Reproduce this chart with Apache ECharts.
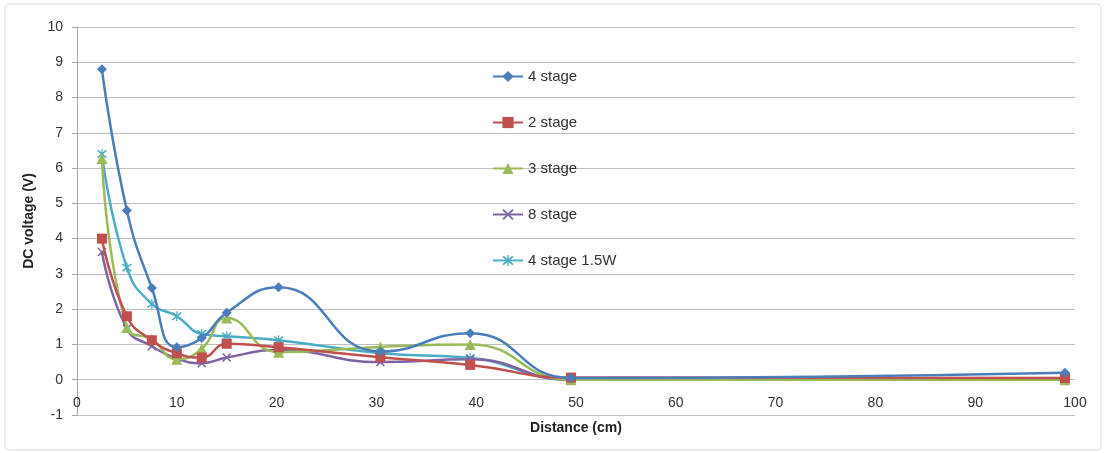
<!DOCTYPE html>
<html><head><meta charset="utf-8">
<script src="https://cdn.jsdelivr.net/npm/echarts@6/dist/echarts.min.js"></script>
<style>html,body{margin:0;padding:0;background:#fff}#c{width:1107px;height:453px}</style>
</head><body><div id="c"></div>
<script>
const distances = [2.5, 5, 7.5, 10, 12.5, 15, 20.2, 30.4, 39.4, 49.5, 99];
const stage4 = [8.8, 4.8, 2.6, 0.92, 1.18, 1.9, 2.62, 0.8, 1.32, 0.05, 0.2];
const stage2 = [4.0, 1.8, 1.12, 0.75, 0.63, 1.02, 0.92, 0.64, 0.42, 0.06, 0.05];
const stage3 = [6.27, 1.48, 1.14, 0.58, 0.88, 1.75, 0.78, 0.93, 1.0, 0.0, 0.0];
const stage8 = [3.62, 1.45, 0.95, 0.6, 0.47, 0.63, 0.84, 0.5, 0.58, 0.0, 0.0];
const stage4w = [6.4, 3.18, 2.15, 1.8, 1.3, 1.23, 1.12, 0.75, 0.62, 0.0, 0.0];
const seriesNames = ['4 stage', '2 stage', '3 stage', '8 stage', '4 stage 1.5W'];
const yTicks = [-1, 10, 1];
const xTicks = [0, 100, 10];

const colors = ['#4A7EBB', '#C0504D', '#9BBB59', '#8064A2', '#4BACC6'];
const xPath = 'path://M0,1.2L1.2,0L5,3.8L8.8,0L10,1.2L6.2,5L10,8.8L8.8,10L5,6.2L1.2,10L0,8.8L3.8,5Z';
const starPath = 'path://M0,1.2L1.2,0L5,3.8L8.8,0L10,1.2L6.2,5L10,8.8L8.8,10L5,6.2L1.2,10L0,8.8L3.8,5Z M4.4,-1L5.6,-1L5.6,11L4.4,11Z';
const symbols = ['diamond', 'rect', 'triangle', xPath, starPath];
const sizes = [10, 10, 11, 9, 10];
const allData = [stage4, stage2, stage3, stage8, stage4w];

const font = '"Liberation Sans Narrow", "Liberation Sans", sans-serif';
const chart = echarts.init(document.getElementById('c'));
chart.setOption({
  animation: false,
  color: colors,
  graphic: [{type: 'rect', shape: {x: 5, y: 4, width: 1096, height: 446, r: 4},
    style: {fill: 'none', stroke: '#D9D9D9', lineWidth: 1}, z: -1}],
  grid: {left: 77, right: 32, top: 27, bottom: 38, outerBoundsMode: 'none', containLabel: false},
  legend: {
    orient: 'vertical', left: 487, top: 64, itemGap: 31, itemWidth: 30, itemHeight: 14,
    data: seriesNames,
    textStyle: {fontFamily: font, fontSize: 15, color: '#333'}
  },
  xAxis: {
    type: 'value', min: xTicks[0], max: xTicks[1], interval: xTicks[2],
    name: 'Distance (cm)', nameLocation: 'middle', nameGap: 6, nameMoveOverlap: false,
    nameTextStyle: {fontFamily: font, fontSize: 14, fontWeight: 'bold', color: '#222', verticalAlign: 'top'},
    axisLine: {show: false},
    axisTick: {show: false},
    axisLabel: {fontFamily: font, fontSize: 14, color: '#333', margin: -19},
    splitLine: {show: false}
  },
  yAxis: {
    type: 'value', min: yTicks[0], max: yTicks[1], interval: yTicks[2],
    name: 'DC voltage (V)', nameLocation: 'middle', nameGap: 41, nameRotate: 90, nameMoveOverlap: false,
    nameTextStyle: {fontFamily: font, fontSize: 14, fontWeight: 'bold', color: '#222'},
    axisLine: {show: true, lineStyle: {color: '#A6A6A6', width: 1}},
    axisTick: {show: true, length: 5, lineStyle: {color: '#A6A6A6'}},
    axisLabel: {fontFamily: font, fontSize: 14, color: '#333', margin: 14},
    splitLine: {lineStyle: {color: '#BFBFBF', width: 1}}
  },
  series: seriesNames.map((n, i) => ({
    name: n, type: 'line', smooth: 0.5,
    data: distances.map((d, k) => [d, allData[i][k]]),
    symbol: symbols[i], symbolSize: sizes[i], showSymbol: true,
    lineStyle: {width: 2.5, color: colors[i]},
    itemStyle: {color: colors[i]},
    z: 10 - i
  }))
});
</script></body></html>
